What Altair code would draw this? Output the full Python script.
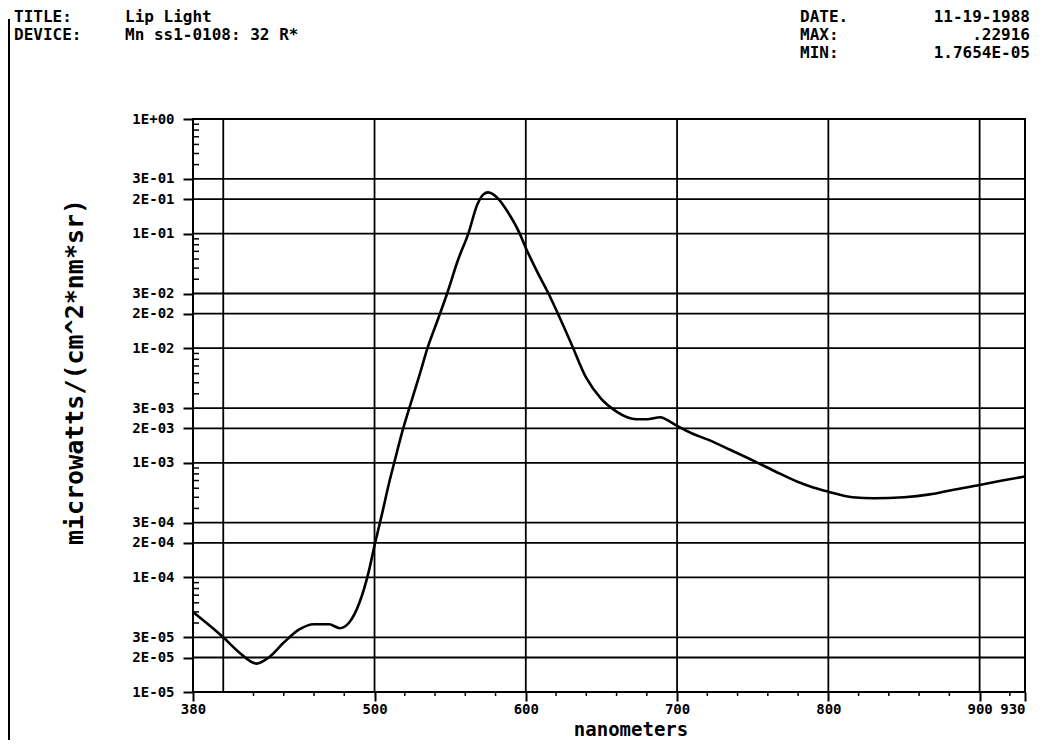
import altair as alt
import pandas as pd

# ---------------- data ----------------
wavelength_nm = [380, 390, 400, 410, 422, 430, 440, 450, 460, 470, 477, 483, 490, 496,
                 500, 505, 510, 513, 518, 523, 530, 535, 542, 548, 555, 562, 568, 572,
                 575, 578, 582, 588, 596, 600, 607, 615, 622, 630, 640, 650, 660, 667,
                 673, 680, 689, 695, 700, 710, 720, 735, 750, 765, 780, 790, 800, 816,
                 830, 850, 867, 882, 900, 915, 930]
radiance = [5.0e-5, 3.9e-5, 3.0e-5, 2.25e-5, 1.77e-5, 2.0e-5, 2.7e-5, 3.5e-5, 3.9e-5,
            3.9e-5, 3.6e-5, 4.0e-5, 6.0e-5, 1.1e-4,
            1.9e-4, 3.6e-4, 7.0e-4, 1.0e-3, 1.8e-3, 3.0e-3, 6.0e-3, 1.0e-2, 1.8e-2,
            3.0e-2, 5.8e-2, 1.0e-1, 0.18, 0.22,
            0.229, 0.222, 0.20, 0.155, 0.10, 0.075, 0.048, 0.030, 0.019, 0.011, 0.0055,
            0.0036, 0.0028, 0.0025,
            0.0024, 0.0024, 0.0025, 0.0023, 0.0021, 0.0018, 0.0016, 0.0013, 0.00105,
            0.00084, 0.00068, 0.00061, 0.00056, 0.00050,
            0.00049, 0.00050, 0.00053, 0.00058, 0.00064, 0.00070, 0.00076]

x_label_values = [380, 500, 600, 700, 800, 900, 930]
x_grid_values = [400, 500, 600, 700, 800, 900]
x_minor_values = [420, 440, 460, 480, 520, 540, 560, 580, 620, 640, 660, 680,
                  720, 740, 760, 780, 820, 840, 860, 880, 920]

y_tick_values = [1.0, 0.3, 0.2, 0.1, 0.03, 0.02, 0.01, 0.003, 0.002, 0.001,
                 0.0003, 0.0002, 0.0001, 0.00003, 0.00002, 0.00001]
y_tick_labels = ["1E+00", "3E-01", "2E-01", "1E-01", "3E-02", "2E-02", "1E-02",
                 "3E-03", "2E-03", "1E-03", "3E-04", "2E-04", "1E-04", "3E-05",
                 "2E-05", "1E-05"]
y_grid_values = [0.3, 0.2, 0.1, 0.03, 0.02, 0.01, 0.003, 0.002, 0.001,
                 0.0003, 0.0002, 0.0001, 0.00003, 0.00002]
y_minor_values = [0.9, 0.8, 0.7, 0.6, 0.5, 0.4,
                  0.09, 0.08, 0.07, 0.06, 0.05, 0.04,
                  0.009, 0.008, 0.007, 0.006, 0.005, 0.004,
                  0.0009, 0.0008, 0.0007, 0.0006, 0.0005, 0.0004,
                  0.00009, 0.00008, 0.00007, 0.00006, 0.00005, 0.00004]

header_left = [("TITLE:", "Lip Light"), ("DEVICE:", "Mn ss1-0108: 32 R*")]
header_right = [("DATE.", "11-19-1988"), ("MAX:", ".22916"), ("MIN:", "1.7654E-05")]
x_title = "nanometers"
y_title = "microwatts/(cm^2*nm*sr)"

# ---------------- layout ----------------
W, H = 832, 573
FONT = "DejaVu Sans Mono"

xscale = alt.Scale(domain=[380, 930], nice=False, zero=False)
yscale = alt.Scale(type="log", domain=[0.00001, 1.0], nice=False)

parts = []
for v, lab in zip(y_tick_values, y_tick_labels):
    parts.append(f"abs(datum.value - {v:.8f}) < {v * 1e-3:.12f} ? '{lab}' : ")
y_label_expr = "".join(parts) + "''"

x_axis = alt.Axis(values=x_label_values, format="d", title=None, grid=False,
                  domain=False, tickSize=9, tickWidth=2, tickColor="black",
                  labelFont=FONT, labelFontWeight="bold", labelFontSize=14,
                  labelColor="black", labelPadding=1, labelFlush=False,
                  labelOverlap=False,
                  labelAlign={"condition": {"test": "datum.value >= 930", "value": "right"},
                              "value": "center"})
y_axis = alt.Axis(values=y_tick_values, labelExpr=y_label_expr, title=None,
                  grid=False, domain=False, tickSize=10, tickWidth=2,
                  tickColor="black", labelFont=FONT, labelFontWeight="bold",
                  labelFontSize=14, labelColor="black", labelPadding=9,
                  labelFlush=False, labelOverlap=False)

df = pd.DataFrame({"nm": wavelength_nm, "val": radiance})

line = alt.Chart(df).mark_line(color="black", strokeWidth=2.6, interpolate="monotone").encode(
    x=alt.X("nm:Q", scale=xscale, axis=x_axis),
    y=alt.Y("val:Q", scale=yscale, axis=y_axis),
)

hgrid = alt.Chart(pd.DataFrame({"val": y_grid_values})).mark_rule(
    color="black", strokeWidth=1.8).encode(y=alt.Y("val:Q", scale=yscale, axis=y_axis))
vgrid = alt.Chart(pd.DataFrame({"nm": x_grid_values})).mark_rule(
    color="black", strokeWidth=1.8).encode(x=alt.X("nm:Q", scale=xscale, axis=x_axis))

yminor = alt.Chart(pd.DataFrame({"val": y_minor_values})).mark_rule(
    color="black", strokeWidth=1.5).encode(
    y=alt.Y("val:Q", scale=yscale, axis=y_axis), x=alt.value(0), x2=alt.value(6))
xminor = alt.Chart(pd.DataFrame({"nm": x_minor_values})).mark_rule(
    color="black", strokeWidth=1.5).encode(
    x=alt.X("nm:Q", scale=xscale, axis=x_axis), y=alt.value(H), y2=alt.value(H + 4))

one = pd.DataFrame({"a": [0]})
texts = []
row_y = [-97, -79, -61]
HFS = 16
for i, (lab, val) in enumerate(header_left):
    texts.append(alt.Chart(one).mark_text(font=FONT, fontWeight="bold", fontSize=HFS,
                                          align="left", baseline="alphabetic", color="black")
                 .encode(x=alt.value(-179), y=alt.value(row_y[i]), text=alt.value(lab)))
    texts.append(alt.Chart(one).mark_text(font=FONT, fontWeight="bold", fontSize=HFS,
                                          align="left", baseline="alphabetic", color="black")
                 .encode(x=alt.value(-68), y=alt.value(row_y[i]), text=alt.value(val)))
for i, (lab, val) in enumerate(header_right):
    texts.append(alt.Chart(one).mark_text(font=FONT, fontWeight="bold", fontSize=HFS,
                                          align="left", baseline="alphabetic", color="black")
                 .encode(x=alt.value(607), y=alt.value(row_y[i]), text=alt.value(lab)))
    texts.append(alt.Chart(one).mark_text(font=FONT, fontWeight="bold", fontSize=HFS,
                                          align="right", baseline="alphabetic", color="black")
                 .encode(x=alt.value(837), y=alt.value(row_y[i]), text=alt.value(val)))

texts.append(alt.Chart(one).mark_text(font=FONT, fontWeight="bold", fontSize=19,
                                      align="center", baseline="middle", color="black")
             .encode(x=alt.value(438), y=alt.value(H + 38), text=alt.value(x_title)))
texts.append(alt.Chart(one).mark_text(font=FONT, fontWeight="bold", fontSize=25,
                                      align="center", baseline="middle", color="black",
                                      angle=270)
             .encode(x=alt.value(-118), y=alt.value(253), text=alt.value(y_title)))

# scanned page border (left edge)
border_left = alt.Chart(one).mark_rule(color="black", strokeWidth=2).encode(
    x=alt.value(-184), y=alt.value(-100), y2=alt.value(640))

chart = alt.layer(hgrid, vgrid, yminor, xminor, line, border_left, *texts).properties(
    width=W, height=H,
    autosize=alt.AutoSizeParams(type="none"),
    padding={"left": 185, "top": 111, "right": 8, "bottom": 48},
    background="white",
).configure_view(stroke="black", strokeWidth=2)

chart.save("out.html", embed_options={"renderer": "svg", "actions": False})
